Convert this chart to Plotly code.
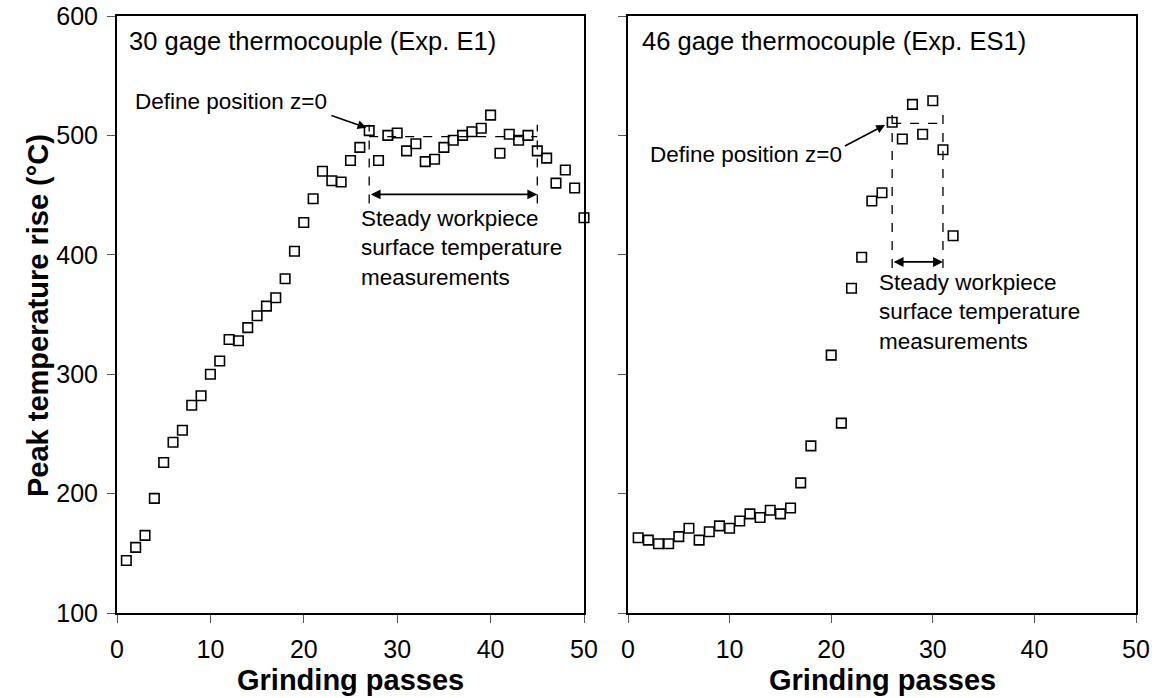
import plotly.graph_objects as go

# ---------------- data ----------------
passes_e1 = list(range(1, 51))
temp_e1 = [144, 155, 165, 196, 226, 243, 253, 274, 282, 300,
           311, 329, 328, 339, 349, 357, 364, 380, 403, 427,
           447, 470, 462, 461, 479, 490, 504, 479, 500, 502,
           487, 493, 478, 480, 490, 496, 500, 503, 506, 517,
           485, 501, 496, 500, 487, 481, 460, 471, 456, 431]

passes_es1 = list(range(1, 33))
temp_es1 = [163, 161, 158, 158, 164, 171, 161, 168, 173, 171,
            177, 183, 180, 186, 183, 188, 209, 240, None, 316,
            259, 372, 398, 445, 452, 511, 497, 526, 501, 529,
            488, 416]

# steady-state windows: [start pass, end pass], mean level
steady_e1 = [27, 45]
level_e1 = 499
steady_es1 = [26, 31]
level_es1 = 510

x_ticks = [0, 10, 20, 30, 40, 50]
y_ticks = [100, 200, 300, 400, 500, 600]

panel_titles = ["30 gage thermocouple (Exp. E1)", "46 gage thermocouple (Exp. ES1)"]
x_title = "Grinding passes"
y_title = "Peak temperature rise (°C)"
define_text = "Define position z=0"
steady_text = "Steady workpiece<br>surface temperature<br>measurements"

# ---------------- figure ----------------
W, H = 1156, 698
FONT = "Liberation Sans, Arial, sans-serif"

fig = go.Figure()

marker = dict(symbol="square-open", size=9.5, color="black", line=dict(width=1.6, color="black"))

fig.add_trace(go.Scatter(x=passes_e1, y=temp_e1, mode="markers", marker=marker,
                         xaxis="x", yaxis="y", showlegend=False, cliponaxis=False))
fig.add_trace(go.Scatter(x=passes_es1, y=temp_es1, mode="markers", marker=marker,
                         xaxis="x2", yaxis="y2", showlegend=False, cliponaxis=False))

def px_x(p):
    return p / W

def px_y(p):
    return 1 - p / H

axis_common = dict(
    showgrid=False, zeroline=False, showline=True, linecolor="black", linewidth=2,
    mirror=True, ticks="outside", ticklen=8, tickwidth=1.3, tickcolor="#555",
    automargin=False,
    tickfont=dict(family=FONT, size=25, color="black"),
)

fig.update_layout(
    width=W, height=H,
    margin=dict(l=0, r=0, t=0, b=0),
    paper_bgcolor="white", plot_bgcolor="white",
    xaxis=dict(domain=[px_x(117), px_x(584)], range=[0, 50], tickvals=x_ticks,
               anchor="y", ticklabelstandoff=5, **axis_common),
    yaxis=dict(domain=[px_y(613), px_y(16)], range=[100, 600], tickvals=y_ticks,
               anchor="x", ticklabelstandoff=4, **axis_common),
    xaxis2=dict(domain=[px_x(628), px_x(1136)], range=[0, 50], tickvals=x_ticks,
                anchor="y2", ticklabelstandoff=5, **axis_common),
    yaxis2=dict(domain=[px_y(613), px_y(16)], range=[100, 600], tickvals=y_ticks,
                anchor="x2", showticklabels=False, **axis_common),
)

dash = dict(color="black", width=1.3, dash="dash")
shapes = []
for xr, yr, (s, e), lvl, lo, hi in [("x", "y", steady_e1, level_e1, 443, 509),
                                   ("x2", "y2", steady_es1, level_es1, 389, 519)]:
    shapes.append(dict(type="line", xref=xr, yref=yr, x0=s, x1=e, y0=lvl, y1=lvl, line=dash))
    shapes.append(dict(type="line", xref=xr, yref=yr, x0=s, x1=s, y0=lo, y1=hi, line=dash))
    shapes.append(dict(type="line", xref=xr, yref=yr, x0=e, x1=e, y0=lo, y1=hi, line=dash))
fig.update_layout(shapes=shapes)

ann_font = dict(family=FONT, size=22.5, color="black")
anns = []
# panel titles
anns.append(dict(text=panel_titles[0], xref="paper", yref="paper", x=px_x(127), y=px_y(41),
                 xanchor="left", yanchor="middle", showarrow=False,
                 font=dict(family=FONT, size=25.5, color="black")))
anns.append(dict(text=panel_titles[1], xref="paper", yref="paper", x=px_x(640), y=px_y(41),
                 xanchor="left", yanchor="middle", showarrow=False,
                 font=dict(family=FONT, size=25.5, color="black")))
# axis titles
for cx in [350, 882]:
    anns.append(dict(text=f"<b>{x_title}</b>", xref="paper", yref="paper", x=px_x(cx), y=px_y(680),
                     xanchor="center", yanchor="middle", showarrow=False,
                     font=dict(family=FONT, size=29, color="black")))
anns.append(dict(text=f"<b>{y_title}</b>", xref="paper", yref="paper", x=px_x(38), y=px_y(316),
                 xanchor="center", yanchor="middle", showarrow=False, textangle=-90,
                 font=dict(family=FONT, size=29, color="black")))

# "Define position" labels and arrows
anns.append(dict(text=define_text, xref="x", yref="y", x=1.7, y=528, xanchor="left", yanchor="middle",
                 showarrow=False, font=ann_font))
anns.append(dict(text="", xref="x", yref="y", axref="x", ayref="y", x=26.7, y=506.5, ax=22.8, ay=517,
                 showarrow=True, arrowhead=2, arrowsize=1.1, arrowwidth=1.6, arrowcolor="black", standoff=0))
anns.append(dict(text=define_text, xref="x2", yref="y2", x=2.0, y=484, xanchor="left", yanchor="middle",
                 showarrow=False, font=ann_font))
anns.append(dict(text="", xref="x2", yref="y2", axref="x2", ayref="y2", x=25.3, y=508.7, ax=21.2, ay=490.5,
                 showarrow=True, arrowhead=2, arrowsize=1.1, arrowwidth=1.6, arrowcolor="black", standoff=0))

# steady range double arrows and text
anns.append(dict(text="", xref="x", yref="y", axref="x", ayref="y", x=steady_e1[1], y=450.6,
                 ax=steady_e1[0], ay=450.6, showarrow=True, arrowhead=2, startarrowhead=2,
                 arrowside="end+start", arrowsize=1.1, arrowwidth=1.8, arrowcolor="black",
                 standoff=0, startstandoff=0))
anns.append(dict(text=steady_text, xref="x", yref="y", x=25.9, y=405.7, xanchor="left", yanchor="middle",
                 align="left", showarrow=False, font=ann_font))
anns.append(dict(text="", xref="x2", yref="y2", axref="x2", ayref="y2", x=steady_es1[1], y=394,
                 ax=steady_es1[0], ay=394, showarrow=True, arrowhead=2, startarrowhead=2,
                 arrowside="end+start", arrowsize=1.1, arrowwidth=1.8, arrowcolor="black",
                 standoff=0, startstandoff=0))
anns.append(dict(text=steady_text, xref="x2", yref="y2", x=24.5, y=351.8, xanchor="left", yanchor="middle",
                 align="left", showarrow=False, font=ann_font))

fig.update_layout(annotations=anns)

fig.write_html("out.html", post_script="document.body.style.margin='0';",
               config={"displayModeBar": False})
